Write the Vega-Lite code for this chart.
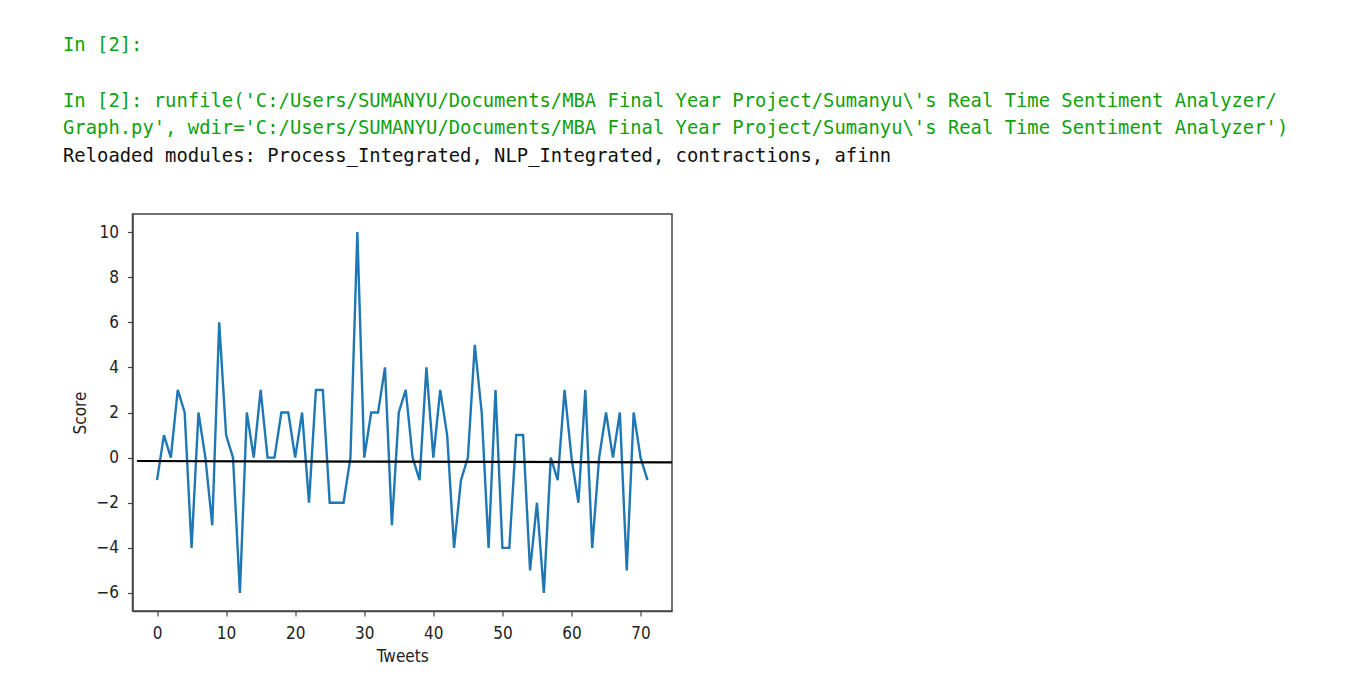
{
  "$schema": "https://vega.github.io/schema/vega-lite/v6.json",
  "autosize": {"type": "none"},
  "padding": {"left": 132.5, "top": 214, "right": 677, "bottom": 79},
  "width": 539.5,
  "height": 397,
  "background": "white",
  "title": {
    "text": [
      "In [2]:",
      "\u200b",
      "In [2]: runfile('C:/Users/SUMANYU/Documents/MBA Final Year Project/Sumanyu\\'s Real Time Sentiment Analyzer/",
      "Graph.py', wdir='C:/Users/SUMANYU/Documents/MBA Final Year Project/Sumanyu\\'s Real Time Sentiment Analyzer')"
    ],
    "subtitle": "Reloaded modules: Process_Integrated, NLP_Integrated, contractions, afinn",
    "anchor": "start",
    "frame": "group",
    "dx": -69.5,
    "offset": 48,
    "limit": 0,
    "font": "DejaVu Sans Mono",
    "fontSize": 18.85,
    "fontWeight": "normal",
    "color": "#10a010",
    "lineHeight": 27.7,
    "subtitleFont": "DejaVu Sans Mono",
    "subtitleFontSize": 18.85,
    "subtitleColor": "#111111",
    "subtitleLineHeight": 27.7,
    "subtitlePadding": 8.8
  },
  "datasets": {
    "scores": [
      {"Tweet": 0, "Score": -1}, {"Tweet": 1, "Score": 1}, {"Tweet": 2, "Score": 0}, {"Tweet": 3, "Score": 3},
      {"Tweet": 4, "Score": 2}, {"Tweet": 5, "Score": -4}, {"Tweet": 6, "Score": 2}, {"Tweet": 7, "Score": 0},
      {"Tweet": 8, "Score": -3}, {"Tweet": 9, "Score": 6}, {"Tweet": 10, "Score": 1}, {"Tweet": 11, "Score": 0},
      {"Tweet": 12, "Score": -6}, {"Tweet": 13, "Score": 2}, {"Tweet": 14, "Score": 0}, {"Tweet": 15, "Score": 3},
      {"Tweet": 16, "Score": 0}, {"Tweet": 17, "Score": 0}, {"Tweet": 18, "Score": 2}, {"Tweet": 19, "Score": 2},
      {"Tweet": 20, "Score": 0}, {"Tweet": 21, "Score": 2}, {"Tweet": 22, "Score": -2}, {"Tweet": 23, "Score": 3},
      {"Tweet": 24, "Score": 3}, {"Tweet": 25, "Score": -2}, {"Tweet": 26, "Score": -2}, {"Tweet": 27, "Score": -2},
      {"Tweet": 28, "Score": 0}, {"Tweet": 29, "Score": 10}, {"Tweet": 30, "Score": 0}, {"Tweet": 31, "Score": 2},
      {"Tweet": 32, "Score": 2}, {"Tweet": 33, "Score": 4}, {"Tweet": 34, "Score": -3}, {"Tweet": 35, "Score": 2},
      {"Tweet": 36, "Score": 3}, {"Tweet": 37, "Score": 0}, {"Tweet": 38, "Score": -1}, {"Tweet": 39, "Score": 4},
      {"Tweet": 40, "Score": 0}, {"Tweet": 41, "Score": 3}, {"Tweet": 42, "Score": 1}, {"Tweet": 43, "Score": -4},
      {"Tweet": 44, "Score": -1}, {"Tweet": 45, "Score": 0}, {"Tweet": 46, "Score": 5}, {"Tweet": 47, "Score": 2},
      {"Tweet": 48, "Score": -4}, {"Tweet": 49, "Score": 3}, {"Tweet": 50, "Score": -4}, {"Tweet": 51, "Score": -4},
      {"Tweet": 52, "Score": 1}, {"Tweet": 53, "Score": 1}, {"Tweet": 54, "Score": -5}, {"Tweet": 55, "Score": -2},
      {"Tweet": 56, "Score": -6}, {"Tweet": 57, "Score": 0}, {"Tweet": 58, "Score": -1}, {"Tweet": 59, "Score": 3},
      {"Tweet": 60, "Score": 0}, {"Tweet": 61, "Score": -2}, {"Tweet": 62, "Score": 3}, {"Tweet": 63, "Score": -4},
      {"Tweet": 64, "Score": 0}, {"Tweet": 65, "Score": 2}, {"Tweet": 66, "Score": 0}, {"Tweet": 67, "Score": 2},
      {"Tweet": 68, "Score": -5}, {"Tweet": 69, "Score": 2}, {"Tweet": 70, "Score": 0}, {"Tweet": 71, "Score": -1}
    ],
    "baseline": [
      {"Tweet": -2.9, "Score": -0.15},
      {"Tweet": 74.55, "Score": -0.21}
    ]
  },
  "encoding": {
    "x": {
      "field": "Tweet",
      "type": "quantitative",
      "scale": {"domain": [-3.55, 74.55], "nice": false, "zero": false},
      "axis": {"title": "Tweets", "values": [0, 10, 20, 30, 40, 50, 60, 70], "labelPadding": 9, "titlePadding": 7}
    },
    "y": {
      "field": "Score",
      "type": "quantitative",
      "scale": {"domain": [-6.8, 10.8], "nice": false, "zero": false},
      "axis": {"title": "Score", "values": [-6, -4, -2, 0, 2, 4, 6, 8, 10], "labelPadding": 9, "titlePadding": 6}
    }
  },
  "layer": [
    {
      "data": {"name": "scores"},
      "mark": {"type": "line", "color": "#1f77b4", "strokeWidth": 2.4, "clip": true}
    },
    {
      "data": {"name": "baseline"},
      "mark": {"type": "line", "color": "#000000", "strokeWidth": 2.2, "clip": true}
    }
  ],
  "config": {
    "view": {"stroke": "#444444", "strokeWidth": 1.5},
    "axis": {
      "labelFont": "DejaVu Sans Condensed, DejaVu Sans",
      "labelFontSize": 17,
      "labelColor": "#222222",
      "titleFont": "DejaVu Sans Condensed, DejaVu Sans",
      "titleFontSize": 17,
      "titleFontWeight": "normal",
      "titleColor": "#222222",
      "domainColor": "#444444",
      "domainWidth": 1.5,
      "tickColor": "#444444",
      "tickSize": 5,
      "tickWidth": 1.2,
      "grid": false
    }
  }
}
